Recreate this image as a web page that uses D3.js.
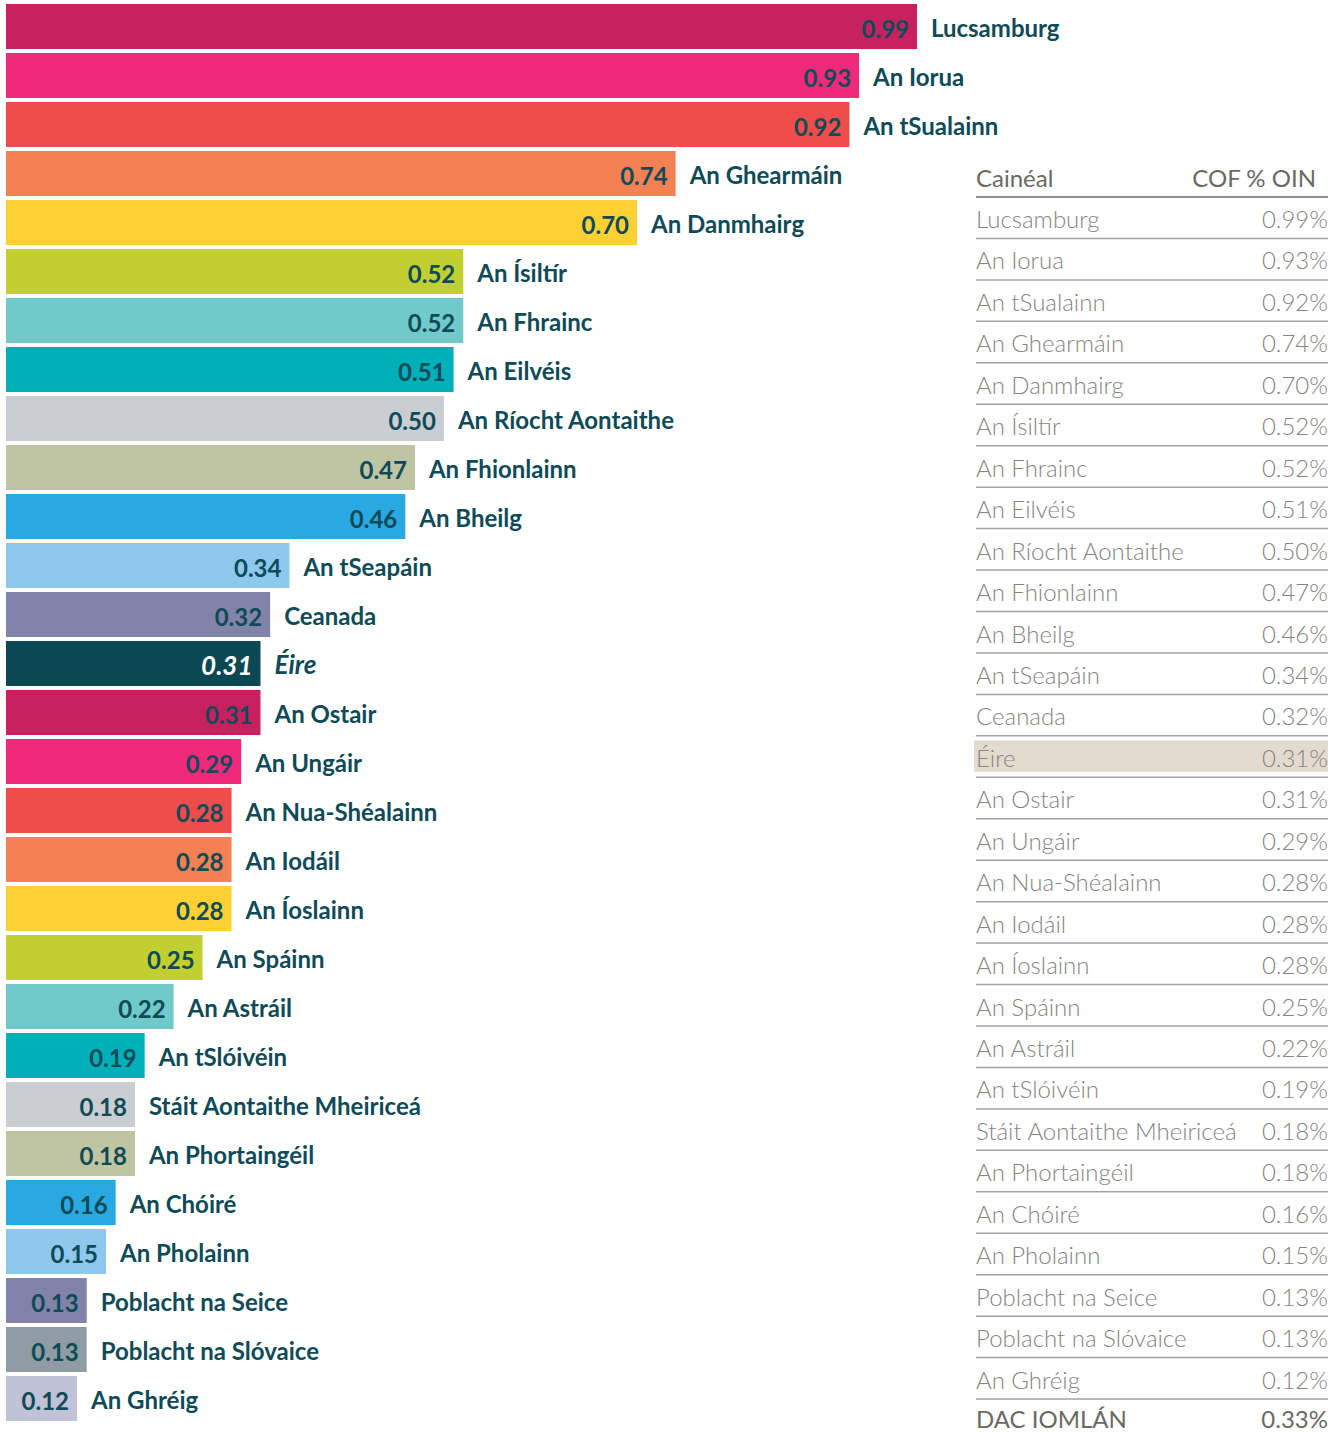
<!DOCTYPE html>
<html>
<head>
<meta charset="utf-8">
<script src="https://cdn.jsdelivr.net/npm/d3@7"></script>
<style>
  html, body { margin: 0; padding: 0; background: #ffffff; }
  svg { display: block; }
</style>
</head>
<body>
<svg id="chart" width="1341" height="1434"></svg>
<script>
// ---- DATA ----
const countries = [
  "Lucsamburg", "An Iorua", "An tSualainn", "An Ghearmáin", "An Danmhairg",
  "An Ísiltír", "An Fhrainc", "An Eilvéis", "An Ríocht Aontaithe", "An Fhionlainn",
  "An Bheilg", "An tSeapáin", "Ceanada", "Éire", "An Ostair",
  "An Ungáir", "An Nua-Shéalainn", "An Iodáil", "An Íoslainn", "An Spáinn",
  "An Astráil", "An tSlóivéin", "Stáit Aontaithe Mheiriceá", "An Phortaingéil", "An Chóiré",
  "An Pholainn", "Poblacht na Seice", "Poblacht na Slóvaice", "An Ghréig"
];
const values = [
  0.99, 0.93, 0.92, 0.74, 0.70,
  0.52, 0.52, 0.51, 0.50, 0.47,
  0.46, 0.34, 0.32, 0.31, 0.31,
  0.29, 0.28, 0.28, 0.28, 0.25,
  0.22, 0.19, 0.18, 0.18, 0.16,
  0.15, 0.13, 0.13, 0.12
];
const highlight = "Éire";
const tableHeader = ["Cainéal", "COF % OIN"];
const totalLabel = "DAC IOMLÁN";
const totalValue = 0.33;

// palette (style)
const palette = [
  "#C8215F", "#EF2A7B", "#EF4C4C", "#F48153", "#FFD033",
  "#C1D030", "#70CACA", "#00B0B9", "#CACDD1", "#BFC4A2",
  "#29A9E1", "#8DC8ED", "#8283A8", "#0C4754", "#C8215F",
  "#EF2A7B", "#EF4C4C", "#F48153", "#FFD033", "#C1D030",
  "#70CACA", "#00B0B9", "#CACDD1", "#BFC4A2", "#29A9E1",
  "#8DC8ED", "#8283A8", "#8F9CA3", "#C0C2D8"
];

const svg = d3.select("#chart");
const textCol = "#0E4A57";
const font = "Lato, 'Open Sans', sans-serif";

// ---- BAR CHART ----
const x = d3.scaleLinear().domain([0.0464, 0.99]).range([6, 917]);
const y = d3.scaleBand().domain(countries).range([4, 1421]).paddingInner(0.082).paddingOuter(0);

const rows = svg.append("g").selectAll("g")
  .data(countries.map((c, i) => ({ c, v: values[i], col: palette[i] })))
  .join("g")
  .attr("transform", d => `translate(0,${y(d.c)})`);

rows.append("rect")
  .attr("x", x.range()[0])
  .attr("y", 0)
  .attr("width", d => x(d.v) - x.range()[0])
  .attr("height", y.bandwidth())
  .attr("fill", d => d.col);

rows.append("text")
  .attr("x", d => x(d.v) - 8)
  .attr("y", y.bandwidth() / 2 + 2)
  .attr("dominant-baseline", "central")
  .attr("text-anchor", "end")
  .attr("font-family", font)
  .attr("font-weight", 700)
  .attr("font-size", d => d.c === highlight ? 26 : 24)
  .attr("font-style", d => d.c === highlight ? "italic" : "normal")
  .attr("fill", d => d.c === highlight ? "#FFFFFF" : textCol)
  .text(d => d3.format(".2f")(d.v));

rows.append("text")
  .attr("x", d => x(d.v) + 14)
  .attr("y", y.bandwidth() / 2 + 1)
  .attr("dominant-baseline", "central")
  .attr("text-anchor", "start")
  .attr("font-family", font)
  .attr("font-weight", 700)
  .attr("font-size", d => d.c === highlight ? 26 : 24)
  .attr("font-style", d => d.c === highlight ? "italic" : "normal")
  .attr("fill", textCol)
  .text(d => d.c);

// ---- TABLE ----
const tx0 = 976, tx1 = 1328;
const ty = d3.scaleBand().domain(countries).range([197, 197 + 41.45 * countries.length]);
const tg = svg.append("g");

// header
tg.append("text").attr("x", tx0).attr("y", 187)
  .attr("font-family", font).attr("font-size", 24).attr("font-weight", 400)
  .attr("fill", "#6A6A64").text(tableHeader[0]);
tg.append("text").attr("x", 1316).attr("y", 187).attr("text-anchor", "end")
  .attr("font-family", font).attr("font-size", 24).attr("font-weight", 400)
  .attr("fill", "#6A6A64").text(tableHeader[1]);
tg.append("line").attr("x1", tx0).attr("x2", tx1).attr("y1", 197).attr("y2", 197)
  .attr("stroke", "#8E8E88").attr("stroke-width", 2);

// highlight
tg.append("rect")
  .attr("x", tx0 - 2).attr("width", tx1 - tx0 + 2)
  .attr("y", ty(highlight) + 4.5).attr("height", 31.5)
  .attr("fill", "#E3DBCE");

const trows = tg.selectAll("g.row")
  .data(countries.map((c, i) => ({ c, v: values[i] })))
  .join("g").attr("class", "row")
  .attr("transform", d => `translate(0,${ty(d.c)})`);

trows.append("text")
  .attr("x", tx0).attr("y", 31)
  .attr("font-family", font).attr("font-size", 24).attr("font-weight", 300)
  .attr("fill", "#85857F")
  .text(d => d.c);
trows.append("text")
  .attr("x", tx1).attr("y", 31).attr("text-anchor", "end")
  .attr("font-family", font).attr("font-size", 24).attr("font-weight", 300)
  .attr("fill", "#85857F")
  .text(d => d3.format(".2f")(d.v) + "%");
trows.append("line")
  .attr("x1", tx0).attr("x2", tx1)
  .attr("y1", ty.bandwidth()).attr("y2", ty.bandwidth())
  .attr("stroke", "#A3A39E").attr("stroke-width", 1.5);

// total row
const totY = ty.range()[1];
tg.append("text").attr("x", tx0).attr("y", totY + 29)
  .attr("font-family", font).attr("font-size", 24).attr("font-weight", 400)
  .attr("fill", "#6A6A64").text(totalLabel);
tg.append("text").attr("x", tx1).attr("y", totY + 29).attr("text-anchor", "end")
  .attr("font-family", font).attr("font-size", 24).attr("font-weight", 400)
  .attr("fill", "#6A6A64").text(d3.format(".2f")(totalValue) + "%");
</script>
</body>
</html>
